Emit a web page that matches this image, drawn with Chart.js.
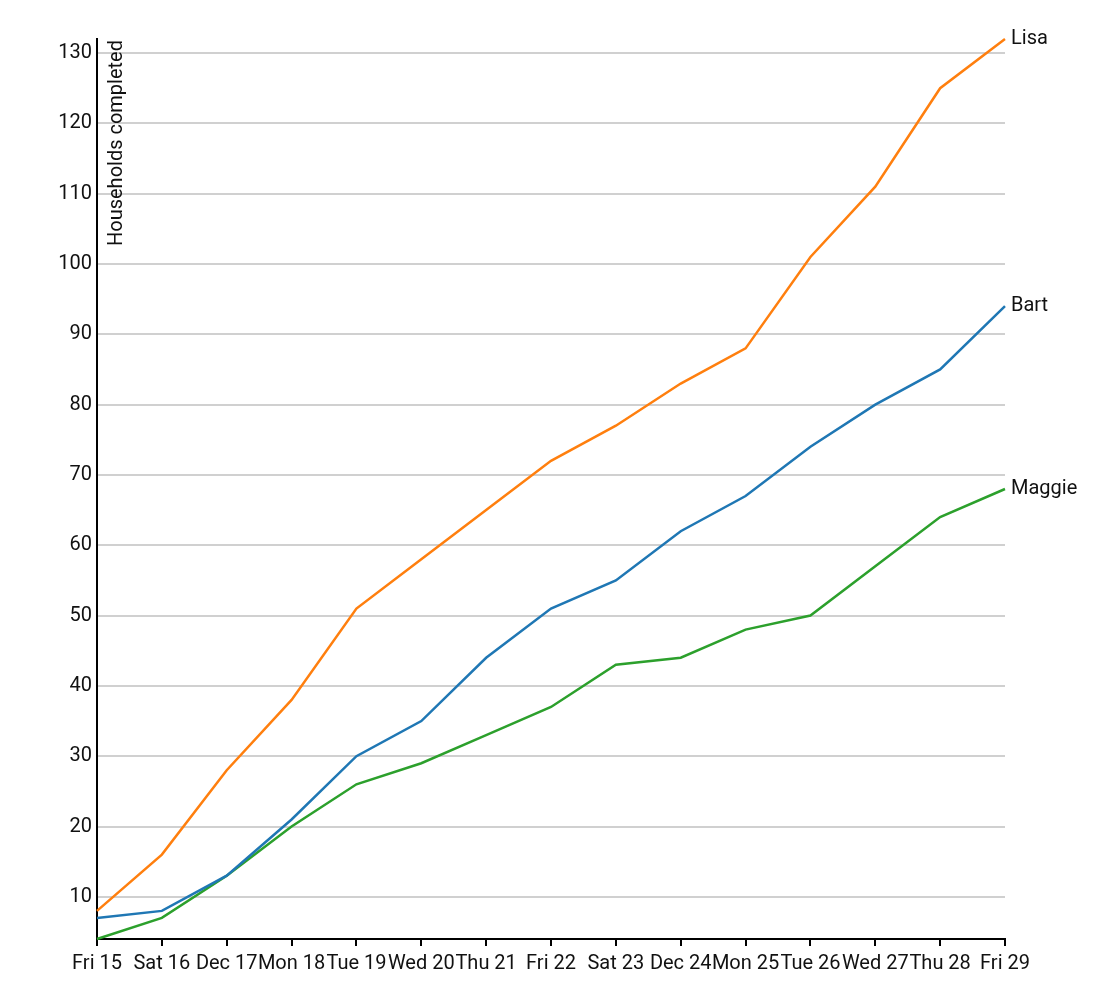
<!DOCTYPE html>
<html>
<head>
<meta charset="utf-8">
<script src="https://cdn.jsdelivr.net/npm/chart.js@4/dist/chart.umd.min.js"></script>
<style>
  html, body { margin: 0; padding: 0; background: #fff; }
  #wrap { width: 1097px; height: 995px; }
</style>
</head>
<body>
<div id="wrap"><canvas id="chartCanvas" width="1097" height="995"></canvas></div>
<script>
const dayLabels = ["Fri 15","Sat 16","Dec 17","Mon 18","Tue 19","Wed 20","Thu 21","Fri 22","Sat 23","Dec 24","Mon 25","Tue 26","Wed 27","Thu 28","Fri 29"]

const seriesNames = ["Bart","Lisa","Maggie"]
const bartValues = [7,8,13,21,30,35,44,51,55,62,67,74,80,85,94]
const lisaValues = [8,16,28,38,51,58,65,72,77,83,88,101,111,125,132]
const maggieValues = [4,7,13,20,26,29,33,37,43,44,48,50,57,64,68]

const yTickValues = [10,20,30,40,50,60,70,80,90,100,110,120,130]
const yTitle = "Households completed"

const fontFamily = "Roboto, 'Noto Sans', sans-serif";

// labels at the end of each line + y title inside plot
const endLabels = {
  id: "endLabels",
  afterDatasetsDraw(chart) {
    const ctx = chart.ctx;
    ctx.save();
    ctx.font = "20px " + fontFamily;
    ctx.fillStyle = "#111";
    ctx.textBaseline = "middle";
    ctx.textAlign = "left";
    chart.data.datasets.forEach((ds, i) => {
      const meta = chart.getDatasetMeta(i);
      const last = meta.data[meta.data.length - 1];
      ctx.fillText(ds.label, last.x + 6, last.y);
    });
    ctx.translate(chart.chartArea.left + 20, chart.chartArea.top + 1);
    ctx.rotate(-Math.PI / 2);
    ctx.textAlign = "right";
    ctx.fillText(yTitle, 0, 0);
    ctx.restore();
  }
};

new Chart("chartCanvas", {
  type: "line",
  data: {
    labels: dayLabels,
    datasets: [
      { label: seriesNames[0], data: bartValues, borderColor: "#1f77b4" },
      { label: seriesNames[1], data: lisaValues, borderColor: "#ff7f0e" },
      { label: seriesNames[2], data: maggieValues, borderColor: "#2ca02c" }
    ]
  },
  options: {
    responsive: false,
    animation: false,
    layout: { padding: { top: 39, right: 92, left: 0, bottom: 0 } },
    elements: {
      line: { borderWidth: 2.5, tension: 0, fill: false },
      point: { radius: 0, hoverRadius: 0 }
    },
    datasets: { line: { clip: false } },
    plugins: {
      legend: { display: false },
      tooltip: { enabled: false }
    },
    scales: {
      x: {
        offset: false,
        border: { color: "#000", width: 2 },
        grid: { drawOnChartArea: false, drawTicks: true, tickLength: 7, tickColor: "#000", lineWidth: 2 },
        ticks: { color: "#111", font: { family: fontFamily, size: 20 }, maxRotation: 0, autoSkip: false, padding: 6 },
        afterFit(scale) { scale.height = 56; }
      },
      y: {
        min: 4,
        max: 132,
        border: { color: "#000", width: 2 },
        grid: { color: "#d0d0d0", lineWidth: 2, drawTicks: false },
        ticks: { color: "#111", font: { family: fontFamily, size: 20 }, padding: 5 },
        afterBuildTicks(scale) { scale.ticks = yTickValues.map(v => ({ value: v })); },
        afterFit(scale) { scale.width = 97; }
      }
    }
  },
  plugins: [endLabels]
});
</script>
</body>
</html>
